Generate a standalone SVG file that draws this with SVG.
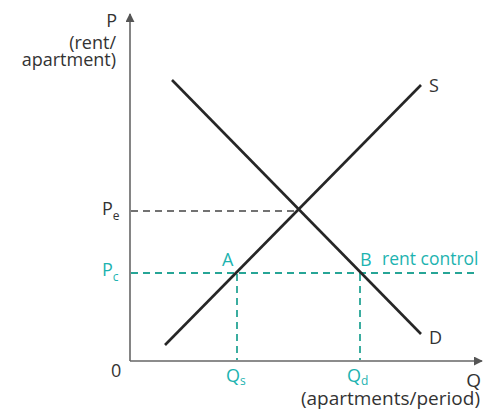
<svg xmlns="http://www.w3.org/2000/svg" width="490" height="412" viewBox="0 0 490 412">
<defs>
<marker id="arr" viewBox="0 0 10 10" refX="9" refY="5" markerWidth="9" markerHeight="9" markerUnits="userSpaceOnUse" orient="auto">
<path d="M0,0 L10,5 L0,10 z" fill="#555"/>
</marker>
<style>
text{font-family:"Open Sans","Noto Sans",sans-serif;font-size:18px;fill:#333}
.t{fill:#1db3b0}
.sub{font-size:12px}
.ax{stroke:#666;stroke-width:1.6;fill:none}
.curve{stroke:#262626;stroke-width:2.6;fill:none}
.dk{stroke:#444;stroke-width:1.6;stroke-dasharray:7,5;fill:none}
.tl{stroke:#26a596;stroke-width:1.8;stroke-dasharray:7,5;fill:none}
</style>
</defs>
<rect width="490" height="412" fill="#fff"/>
<g id="connectors">
<line class="ax" x1="130" y1="361" x2="130" y2="14" marker-end="url(#arr)"/>
<line class="ax" x1="130" y1="361" x2="482" y2="361" marker-end="url(#arr)"/>
<line class="dk" x1="131" y1="211" x2="297" y2="211"/>
<line class="tl" x1="131" y1="273" x2="474" y2="273"/>
<line class="tl" x1="237" y1="274" x2="237" y2="360"/>
<line class="tl" x1="360" y1="274" x2="360" y2="360"/>
</g>
<g id="supply">
<line class="curve" x1="165" y1="345" x2="421" y2="85"/>
<text x="429" y="92">S</text>
</g>
<g id="demand">
<line class="curve" x1="172" y1="80" x2="421" y2="334"/>
<text x="429" y="344">D</text>
</g>
<g id="y-label">
<text x="117" y="27" text-anchor="end">P</text>
<text x="116" y="49" text-anchor="end">(rent/</text>
<text x="116" y="66" text-anchor="end">apartment)</text>
</g>
<g id="x-label">
<text x="481" y="387" text-anchor="end" style="font-size:19px">Q</text>
<text x="480" y="405" text-anchor="end" style="font-size:19px">(apartments/period)</text>
</g>
<g id="origin"><text x="111" y="377">0</text></g>
<g id="pe"><text x="102" y="215">P<tspan class="sub" dy="5">e</tspan></text></g>
<g id="pc"><text class="t" x="102" y="276">P<tspan class="sub" dy="5">c</tspan></text></g>
<g id="qs"><text class="t" x="226" y="382">Q<tspan class="sub" dy="3">s</tspan></text></g>
<g id="qd"><text class="t" x="347" y="382">Q<tspan class="sub" dy="3">d</tspan></text></g>
<g id="pointA"><text class="t" x="222" y="266">A</text></g>
<g id="pointB"><text class="t" x="360" y="266">B</text></g>
<g id="rent-control"><text class="t" x="382" y="265" style="font-size:17.5px">rent control</text></g>
</svg>
